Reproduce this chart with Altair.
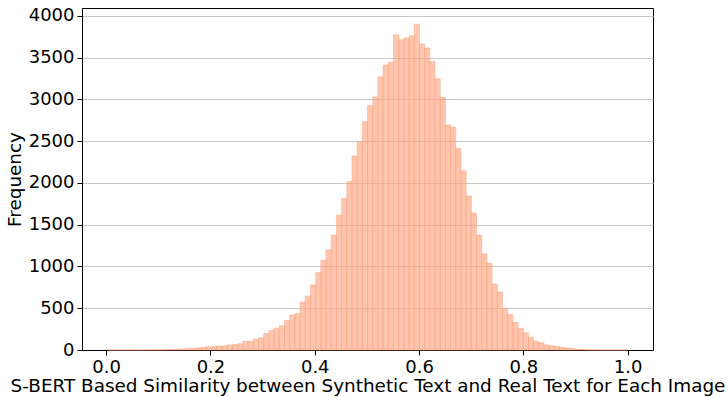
import altair as alt
import numpy as np
import pandas as pd

# histogram: 100 bins spanning the data range (min ~0.0036, max ~0.9989)
data_min = 0.0036
data_max = 0.9989
n_bins = 100

counts = [
    1, 0, 0, 0, 1, 0, 1, 1, 2, 2,          # 0.00 - 0.10
    3, 5, 8, 10, 12, 16, 20, 26, 34, 40,    # 0.10 - 0.20
    44, 46, 50, 60, 66, 74, 106, 102, 130, 146,   # 0.20 - 0.30
    198, 236, 262, 290, 355, 419, 435, 573, 645, 780,  # 0.30 - 0.40
    926, 1074, 1198, 1377, 1613, 1817, 2016, 2323, 2489, 2735,  # 0.40 - 0.50
    2925, 3030, 3270, 3413, 3445, 3774, 3716, 3736, 3762, 3900,  # 0.50 - 0.60
    3665, 3615, 3453, 3247, 3024, 2695, 2668, 2415, 2146, 1844,  # 0.60 - 0.70
    1640, 1377, 1151, 1040, 790, 696, 499, 427, 329, 261,  # 0.70 - 0.80
    206, 152, 104, 87, 60, 50, 42, 32, 24, 20,  # 0.80 - 0.90
    10, 6, 3, 2, 1, 0, 0, 0, 0, 1,  # 0.90 - 1.00
]

x_ticks = [0.0, 0.2, 0.4, 0.6, 0.8, 1.0]
y_ticks = [0, 500, 1000, 1500, 2000, 2500, 3000, 3500, 4000]

edges = np.linspace(data_min, data_max, n_bins + 1)
df = pd.DataFrame({"start": edges[:-1], "end": edges[1:], "count": counts})

FONT = "DejaVu Sans"

bars = alt.Chart(df).mark_bar(
    fill="#FFA07A", fillOpacity=0.6,
    stroke="#FFA07A", strokeOpacity=0.6, strokeWidth=0.8,
).encode(
    x=alt.X(
        "start:Q",
        scale=alt.Scale(domain=[-0.0463, 1.0486], nice=False, zero=False),
        axis=alt.Axis(
            values=x_ticks, format=".1f", grid=False,
            title="S-BERT Based Similarity between Synthetic Text and Real Text for Each Image",
            titlePadding=0,
        ),
    ),
    x2="end:Q",
    y=alt.Y(
        "count:Q",
        scale=alt.Scale(domain=[0, 4095], nice=False),
        axis=alt.Axis(
            values=y_ticks, format="d", grid=True,
            title="Frequency", titlePadding=4,
        ),
    ),
    y2=alt.datum(0),
)

chart = bars.properties(
    width=571, height=342,
    autosize=alt.AutoSizeParams(type="none"),
    padding={"left": 82, "top": 8, "right": 75, "bottom": 47},
    background="white",
).configure_view(
    stroke="black", strokeWidth=1,
).configure_axis(
    labelFont=FONT, titleFont=FONT,
    labelFontSize=18, titleFontSize=18.4,
    labelColor="black", titleColor="black",
    titleFontWeight="normal",
    domainColor="black", domainWidth=1,
    tickColor="black", tickSize=5, tickWidth=1,
    gridColor="#c8c8c8", gridWidth=1,
    labelPadding=3,
)

chart.save("out.html", embed_options={"renderer": "svg", "actions": False})
